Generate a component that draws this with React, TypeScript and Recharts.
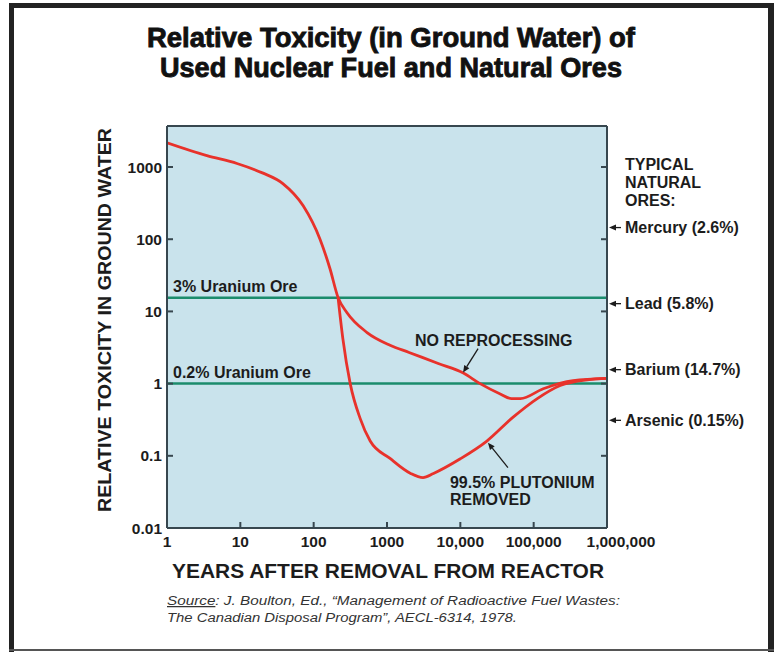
import React from 'react';
import { ComposedChart, Line, XAxis, YAxis, ReferenceLine, ReferenceDot, CartesianGrid } from 'recharts';

const FONT = '"Liberation Sans", Arial, Helvetica, sans-serif';
const TITLE_FONT = '"Liberation Sans", Arial, Helvetica, sans-serif';
const BG = '#c9e3ec';
const AXIS = '#37474f';
const RED = '#e8322b';
const GREEN = '#1b8c6c';
const INK = '#1c1c1c';

const xTicks = [1, 10, 100, 1000, 10000, 100000, 1000000];
const xTickLabels = ['1', '10', '100', '1000', '10,000', '100,000', '1,000,000'];
const yTicks = [0.01, 0.1, 1, 10, 100, 1000];
const yTickLabels = ['0.01', '0.1', '1', '10', '100', '1000'];

const noReprocYears = [1, 3.5, 9, 20, 38, 72, 122, 167, 215, 285, 535, 1100, 2000, 5000, 11000, 18600, 35000, 50000, 66000, 135000, 345000, 1000000];
const noReprocTox = [2170, 1440, 1120, 830, 590, 290, 100, 39, 15.6, 9.6, 5.1, 3.4, 2.7, 1.9, 1.4, 1.0, 0.72, 0.62, 0.62, 0.85, 1.1, 1.18];

const puRemovedYears = [215, 250, 315, 430, 590, 1100, 2100, 3100, 4300, 10000, 23000, 52000, 112000, 230000, 540000, 1000000];
const puRemovedTox = [15.6, 4.2, 1.0, 0.33, 0.16, 0.092, 0.057, 0.05, 0.057, 0.091, 0.16, 0.34, 0.62, 0.94, 1.13, 1.18];

const uraniumOreNames = ['3% Uranium Ore', '0.2% Uranium Ore'];
const uraniumOreTox = [15.5, 1];

const oreNames = ['Mercury (2.6%)', 'Lead (5.8%)', 'Barium (14.7%)', 'Arsenic (0.15%)'];
const oreTox = [145, 12.8, 1.56, 0.31];

const annotations = [
  { year: 10900, tox: 1.42, lines: ['NO REPROCESSING'], tail: [15, -24], text: [-48, -27] },
  { year: 23800, tox: 0.152, lines: ['99.5% PLUTONIUM', 'REMOVED'], tail: [20, 25], text: [-38, 45] },
];

const Arrow = ({ x1, y1, x2, y2 }: any) => {
  const ang = Math.atan2(y2 - y1, x2 - x1);
  const L = 7;
  const W = 3;
  const bx = x2 - L * Math.cos(ang);
  const by = y2 - L * Math.sin(ang);
  const px = -Math.sin(ang) * W;
  const py = Math.cos(ang) * W;
  return (
    <g>
      <line x1={x1} y1={y1} x2={bx} y2={by} stroke={INK} strokeWidth={1.3} />
      <polygon points={`${x2},${y2} ${bx + px},${by + py} ${bx - px},${by - py}`} fill={INK} />
    </g>
  );
};

const XTick = (props: any) => {
  const { x, y, payload } = props;
  const i = xTicks.indexOf(payload.value);
  const shift = payload.value === 1000000 ? 14 : 0;
  return (
    <text x={x + shift} y={y} dy="0.71em" textAnchor="middle" fontFamily={FONT} fontWeight="bold" fontSize={15.5} fill={INK}>
      {i >= 0 ? xTickLabels[i] : ''}
    </text>
  );
};

const YTick = (props: any) => {
  const { x, y, payload } = props;
  const i = yTicks.indexOf(payload.value);
  return (
    <text x={x} y={y} dy="0.36em" textAnchor="end" fontFamily={FONT} fontWeight="bold" fontSize={15.5} fill={INK}>
      {i >= 0 ? yTickLabels[i] : ''}
    </text>
  );
};

const NoTick = () => <g />;

const oreShape = (name: string) => (props: any) => {
  const { cx, cy } = props;
  return (
    <g>
      <Arrow x1={cx + 14} y1={cy} x2={cx + 2} y2={cy} />
      <text x={cx + 18} y={cy + 5.5} fontFamily={FONT} fontWeight="bold" fontSize={16} fill={INK}>
        {name}
      </text>
    </g>
  );
};

const annoShape = (a: any) => (props: any) => {
  const { cx, cy } = props;
  return (
    <g>
      <Arrow x1={cx + a.tail[0]} y1={cy + a.tail[1]} x2={cx} y2={cy} />
      {a.lines.map((t: string, k: number) => (
        <text key={k} x={cx + a.text[0]} y={cy + a.text[1] + k * 17} fontFamily={FONT} fontWeight="bold" fontSize={16} fill={INK}>
          {t}
        </text>
      ))}
    </g>
  );
};

export default function App() {
  const noReproc = noReprocYears.map((year, i) => ({ year, tox: noReprocTox[i] }));
  const puRemoved = puRemovedYears.map((year, i) => ({ year, tox: puRemovedTox[i] }));
  const yDomain = [0.01, 3700];
  const xDomain = [1, 1000000];

  return (
    <div style={{ position: 'absolute', left: 0, top: 0, width: 775, height: 652, background: '#fff' }}>
      <div style={{ position: 'absolute', left: 0, top: 0 }}>
        <ComposedChart width={775} height={652} margin={{ top: 96, right: 108, bottom: 94, left: 107 }}>
          <CartesianGrid horizontal={false} vertical={false} fill={BG} stroke="none" />
          <XAxis
            dataKey="year"
            type="number"
            scale="log"
            domain={xDomain}
            allowDataOverflow
            ticks={xTicks}
            interval={0}
            height={30}
            tickSize={-6}
            tickMargin={14}
            tick={XTick}
            axisLine={{ stroke: AXIS, strokeWidth: 2 }}
            tickLine={{ stroke: AXIS, strokeWidth: 2 }}
          />
          <XAxis
            xAxisId="top"
            orientation="top"
            type="number"
            scale="log"
            domain={xDomain}
            allowDataOverflow
            ticks={xTicks}
            interval={0}
            height={30}
            tickSize={-6}
            tick={NoTick}
            axisLine={{ stroke: AXIS, strokeWidth: 2 }}
            tickLine={{ stroke: AXIS, strokeWidth: 2 }}
          />
          <YAxis
            dataKey="tox"
            type="number"
            scale="log"
            domain={yDomain}
            allowDataOverflow
            ticks={yTicks}
            interval={0}
            width={60}
            tickSize={-6}
            tickMargin={11}
            tick={YTick}
            axisLine={{ stroke: AXIS, strokeWidth: 2 }}
            tickLine={{ stroke: AXIS, strokeWidth: 2 }}
          />
          <YAxis
            yAxisId="right"
            orientation="right"
            type="number"
            scale="log"
            domain={yDomain}
            allowDataOverflow
            ticks={yTicks}
            interval={0}
            width={60}
            tickSize={-6}
            tick={NoTick}
            axisLine={{ stroke: AXIS, strokeWidth: 2 }}
            tickLine={{ stroke: AXIS, strokeWidth: 2 }}
          />
          {uraniumOreTox.map((v, i) => (
            <ReferenceLine
              key={uraniumOreNames[i]}
              y={v}
              stroke={GREEN}
              strokeWidth={2.5}
              label={{
                value: uraniumOreNames[i],
                position: 'insideBottomLeft',
                offset: 6,
                fill: INK,
                fontSize: 16,
                fontWeight: 'bold',
                fontFamily: FONT,
              }}
            />
          ))}
          <Line data={noReproc} dataKey="tox" type="monotone" stroke={RED} strokeWidth={2.8} dot={false} isAnimationActive={false} />
          <Line data={puRemoved} dataKey="tox" type="monotone" stroke={RED} strokeWidth={2.8} dot={false} isAnimationActive={false} />
          {oreTox.map((v, i) => (
            <ReferenceDot key={oreNames[i]} x={1000000} y={v} r={0} ifOverflow="visible" shape={oreShape(oreNames[i])} />
          ))}
          {annotations.map((a, i) => (
            <ReferenceDot key={'a' + i} x={a.year} y={a.tox} r={0} ifOverflow="visible" shape={annoShape(a)} />
          ))}
        </ComposedChart>
      </div>
      <svg width={775} height={652} style={{ position: 'absolute', left: 0, top: 0, pointerEvents: 'none' }}>
        <rect x={9} y={3} width={5} height={649} fill="#222" />
        <rect x={9} y={3} width={765} height={5} fill="#222" />
        <rect x={768} y={3} width={6} height={649} fill="#222" />
        <rect x={9} y={649} width={765} height={2} fill="#555" />
        <text x={147} y={47} textLength={488} lengthAdjust="spacingAndGlyphs" fontFamily={TITLE_FONT} fontWeight="bold" fontSize={28} fill="#111" stroke="#111" strokeWidth={0.9}>
          Relative Toxicity (in Ground Water) of
        </text>
        <text x={160} y={77} textLength={462} lengthAdjust="spacingAndGlyphs" fontFamily={TITLE_FONT} fontWeight="bold" fontSize={28} fill="#111" stroke="#111" strokeWidth={0.9}>
          Used Nuclear Fuel and Natural Ores
        </text>
        <text
          x={0}
          y={0}
          transform="translate(111,320) rotate(-90)"
          textAnchor="middle"
          textLength={384}
          lengthAdjust="spacingAndGlyphs"
          fontFamily={FONT}
          fontWeight="bold"
          fontSize={19}
          fill={INK}
        >
          RELATIVE TOXICITY IN GROUND WATER
        </text>
        <text x={172} y={578} textLength={432} lengthAdjust="spacingAndGlyphs" fontFamily={FONT} fontWeight="bold" fontSize={20} fill={INK}>
          YEARS AFTER REMOVAL FROM REACTOR
        </text>
        <text x={625} y={170} fontFamily={FONT} fontWeight="bold" fontSize={16} fill={INK}>TYPICAL</text>
        <text x={625} y={188} fontFamily={FONT} fontWeight="bold" fontSize={16} fill={INK}>NATURAL</text>
        <text x={625} y={206} fontFamily={FONT} fontWeight="bold" fontSize={16} fill={INK}>ORES:</text>
        <text x={167} y={605} textLength={453} lengthAdjust="spacingAndGlyphs" fontFamily={FONT} fontStyle="italic" fontSize={12.5} fill="#333">
          <tspan textDecoration="underline">Source</tspan>: J. Boulton, Ed., “Management of Radioactive Fuel Wastes:
        </text>
        <text x={167} y={622} textLength={350} lengthAdjust="spacingAndGlyphs" fontFamily={FONT} fontStyle="italic" fontSize={12.5} fill="#333">
          The Canadian Disposal Program”, AECL-6314, 1978.
        </text>
      </svg>
    </div>
  );
}
